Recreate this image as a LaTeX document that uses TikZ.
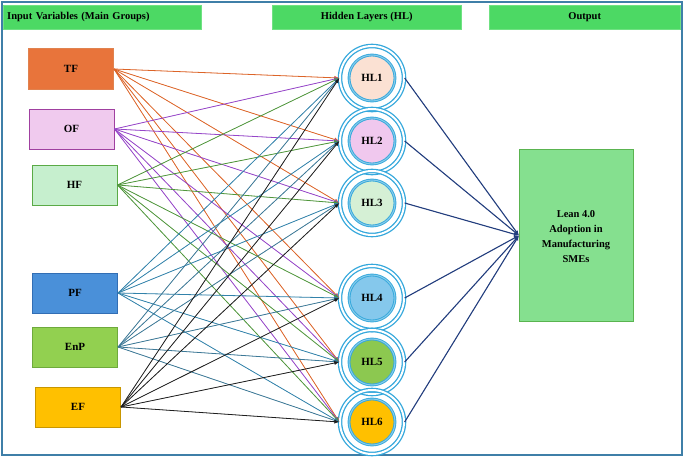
\documentclass[tikz,border=0pt]{standalone}
\usepackage{fontspec}
\setmainfont{Liberation Serif}
\usetikzlibrary{arrows.meta}
\definecolor{hdr}{HTML}{4CD964}
\definecolor{frm}{HTML}{3F7FA8}
\definecolor{ring}{HTML}{35A8DC}
\definecolor{navy}{HTML}{233E7E}
\definecolor{tff}{HTML}{E8743B}\definecolor{tfd}{HTML}{E0824F}
\definecolor{off}{HTML}{F0CAEE}\definecolor{ofd}{HTML}{A040A0}
\definecolor{hff}{HTML}{C6EFCE}\definecolor{hfd}{HTML}{5AAA46}
\definecolor{pff}{HTML}{4A90D9}\definecolor{pfd}{HTML}{326EB4}
\definecolor{enf}{HTML}{92D050}\definecolor{end}{HTML}{6EAA3C}
\definecolor{eff}{HTML}{FFC000}\definecolor{efd}{HTML}{C89600}
\definecolor{eTF}{HTML}{DC6428}\definecolor{eOF}{HTML}{9646C8}
\definecolor{eHF}{HTML}{50963C}\definecolor{ePF}{HTML}{3282AA}
\definecolor{eEnP}{HTML}{3C7896}\definecolor{eEF}{HTML}{1E1E1E}
\definecolor{outf}{HTML}{85E08F}\definecolor{outd}{HTML}{5AB450}
\begin{document}
\begin{tikzpicture}[x=1pt,y=-1pt,
 hd/.style={fill=hdr,draw=hdr!80!white,minimum height=24pt,inner sep=0pt,font=\bfseries\fontsize{10.5}{12}\selectfont,anchor=north west},
 inb/.style={minimum width=85pt,minimum height=40pt,line width=1pt,font=\bfseries\fontsize{11}{13}\selectfont},
 hl/.style={circle,minimum size=64pt,draw=ring,line width=1.3pt,double=white,double distance=2pt,inner sep=0pt},
 hin/.style={circle,minimum size=46pt,draw=ring,line width=0.9pt,double=ring!60,double distance=1pt,font=\bfseries\fontsize{11}{13}\selectfont},
 ed/.style={-{Latex[length=5pt,width=4pt]},line width=0.8pt},
 od/.style={-{Latex[length=5pt,width=4pt]},line width=1.1pt,draw=navy,fill=navy}]
\useasboundingbox (0,0) rectangle (685,460);
\draw[frm,line width=1.2pt] (2,2) rectangle (682,455);
\node[hd,minimum width=198pt,text width=190pt,align=left] (h1) at (3,5) {Input Variables (Main Groups)};
\node[hd,minimum width=189pt] (h2) at (272,5) {Hidden Layers (HL)};
\node[hd,minimum width=191pt] (h3) at (489,5) {Output};
\node[inb,fill=tff,draw=tfd] (TF) at (71,69) {TF};
\node[inb,fill=off,draw=ofd] (OF) at (71.5,129) {OF};
\node[inb,fill=hff,draw=hfd] (HF) at (74.5,185) {HF};
\node[inb,fill=pff,draw=pfd] (PF) at (75,293) {PF};
\node[inb,fill=enf,draw=end] (EnP) at (75,347) {EnP};
\node[inb,fill=eff,draw=efd] (EF) at (78,407) {EF};
\foreach \n/\y/\c in {1/78/FBE1D3,2/141/F0C8EE,3/203/D5F0D5,4/298/85C8EC,5/362/8CC850,6/422/FFC000}{
  \definecolor{f\n}{HTML}{\c}
  \node[hl] (O\n) at (372,\y) {};
  \node[hin,fill=f\n] (H\n) at (372,\y) {HL\n};
}
\node[fill=outf,draw=outd,line width=1pt,minimum width=114pt,minimum height=172pt,anchor=north west,inner sep=0pt] (OUT) at (519,149) {};
\node[align=center,font=\bfseries\fontsize{10.5}{15}\selectfont] (OT) at (576,237) {Lean 4.0\\Adoption in\\Manufacturing\\SMEs};
\foreach \s in {TF,OF,HF,PF,EnP,EF}{
  \foreach \n in {1,...,6}{\draw[ed,draw=e\s,fill=e\s] (\s.east) -- (O\n.west);}
}
\foreach \n in {1,...,6}{\draw[od] (O\n.east) -- (OUT.west);}
\end{tikzpicture}
\end{document}
